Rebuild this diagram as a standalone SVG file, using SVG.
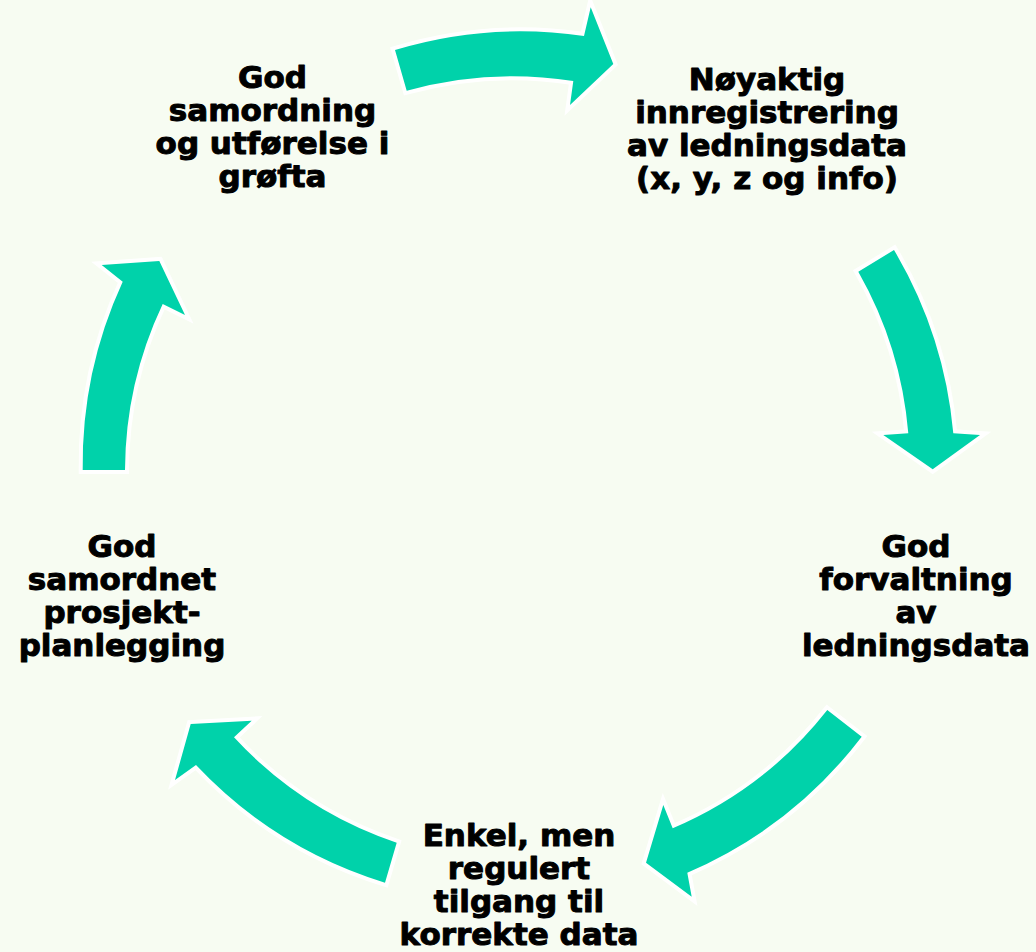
<svg xmlns="http://www.w3.org/2000/svg" width="1036" height="952" viewBox="0 0 1036 952">
<style>
.arrow{fill:#00D2AA;stroke:#FFFFFF;stroke-width:8;stroke-linejoin:miter;paint-order:stroke fill}
.lbl{font-family:"DejaVu Sans","Verdana",sans-serif;font-weight:bold;font-size:31px;fill:#000000;stroke:#000000;stroke-width:1;stroke-linejoin:round;text-anchor:middle}
</style>
<rect x="0" y="0" width="1036" height="952" fill="#F7FCF2"/>
<g id="connectors">
<path class="arrow" d="M395,50 A436,436 0 0 1 584,36 L590.7,7.3 L613.3,64 L570,105 L573.3,81 A392,392 0 0 0 406.7,90.7 Z"/>
<path class="arrow" d="M894,250 A436,436 0 0 1 953.3,433.3 L980,435 L932.7,469.3 L883.3,435 L908.3,433.3 A392,392 0 0 0 858.3,271.7 Z"/>
<path class="arrow" d="M861.7,736.7 A436,436 0 0 1 687.3,872.7 L691.7,896.7 L646,862.7 L663.3,805 L672.7,828.3 A392,392 0 0 0 827.3,710 Z"/>
<path class="arrow" d="M385,882.7 A436,436 0 0 1 196,765 L175,780 L190.7,724 L251.7,720.7 L234,737.3 A392,392 0 0 0 396.7,842.7 Z"/>
<path class="arrow" d="M82.7,470 A436,436 0 0 1 122.7,281.7 L101.7,265 L159.3,261 L185,315 L162.7,304 A392,392 0 0 0 125,470 Z"/>
</g>
<g id="node-top-left">
<text class="lbl" x="272.5" y="88">God</text>
<text class="lbl" x="272.5" y="121">samordning</text>
<text class="lbl" x="272.5" y="154">og utførelse i</text>
<text class="lbl" x="272.5" y="187">grøfta</text>
</g>
<g id="node-top-right">
<text class="lbl" x="767" y="89.5">Nøyaktig</text>
<text class="lbl" x="767" y="122.5">innregistrering</text>
<text class="lbl" x="767" y="155.5">av ledningsdata</text>
<text class="lbl" x="767" y="188.5">(x, y, z og info)</text>
</g>
<g id="node-right">
<text class="lbl" x="916" y="556.5">God</text>
<text class="lbl" x="916" y="589.5">forvaltning</text>
<text class="lbl" x="916" y="622.5">av</text>
<text class="lbl" x="916" y="655.5">ledningsdata</text>
</g>
<g id="node-bottom">
<text class="lbl" x="519" y="846">Enkel, men</text>
<text class="lbl" x="519" y="879">regulert</text>
<text class="lbl" x="519" y="912">tilgang til</text>
<text class="lbl" x="519" y="945">korrekte data</text>
</g>
<g id="node-left">
<text class="lbl" x="122" y="556.5">God</text>
<text class="lbl" x="122" y="589.5">samordnet</text>
<text class="lbl" x="122" y="622.5">prosjekt-</text>
<text class="lbl" x="122" y="655.5">planlegging</text>
</g>
</svg>
